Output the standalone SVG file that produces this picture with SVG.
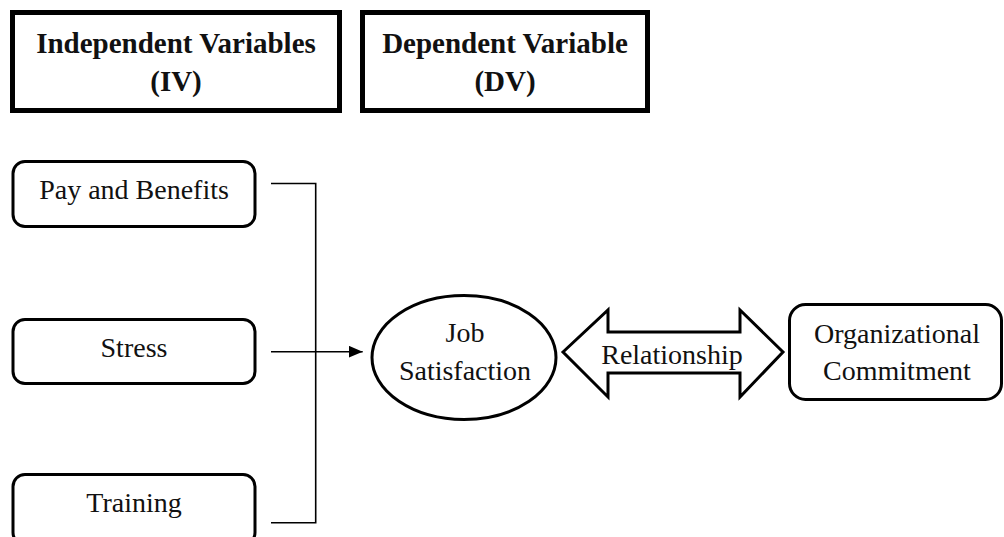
<svg xmlns="http://www.w3.org/2000/svg" width="1004" height="537" viewBox="0 0 1004 537">
<style>
.hdr{fill:#fff;stroke:#000;stroke-width:5}
.box{fill:#fff;stroke:#000;stroke-width:3}
.t{font-family:"Liberation Serif","Times New Roman",serif;font-size:28px;fill:#111;text-anchor:middle}
.b{font-family:"Liberation Serif","Times New Roman",serif;font-size:29px;font-weight:bold;fill:#111;text-anchor:middle}
.ln{fill:none;stroke:#000;stroke-width:1.6}
</style>
<defs>
<marker id="ah" markerWidth="16" markerHeight="14" refX="14" refY="6" orient="auto" markerUnits="userSpaceOnUse">
<path d="M0,0 L14,6 L0,12 Z" fill="#000"/>
</marker>
</defs>
<rect width="1004" height="537" fill="#fff"/>
<g id="iv-header">
<rect class="hdr" x="12.5" y="12.5" width="327" height="98"/>
<text class="b" x="176" y="53">Independent Variables</text>
<text class="b" x="176" y="91">(IV)</text>
</g>
<g id="dv-header">
<rect class="hdr" x="362.5" y="12.5" width="285" height="98"/>
<text class="b" x="505" y="53">Dependent Variable</text>
<text class="b" x="505" y="91">(DV)</text>
</g>
<g id="pay">
<rect class="box" x="13" y="161.5" width="242" height="65" rx="12"/>
<text class="t" x="134" y="199">Pay and Benefits</text>
</g>
<g id="stress">
<rect class="box" x="13" y="319.5" width="242" height="64" rx="12"/>
<text class="t" x="134" y="357">Stress</text>
</g>
<g id="training">
<rect class="box" x="13" y="474.5" width="242" height="70" rx="12"/>
<text class="t" x="134" y="512">Training</text>
</g>
<g id="connectors">
<path class="ln" d="M271,183.5 H315.7 V522.7 H271"/>
<path class="ln" d="M271,351.7 H362.7" marker-end="url(#ah)"/>
<polygon points="563,352 608,310 608,332 740,332 740,310 783,352 740,397 740,373 608,373 608,397" fill="#fff" stroke="#000" stroke-width="3" stroke-linejoin="miter"/>
<text class="t" x="672" y="364">Relationship</text>
</g>
<g id="job-satisfaction">
<ellipse cx="464" cy="357.5" rx="92" ry="62" fill="#fff" stroke="#000" stroke-width="3"/>
<text class="t" x="465" y="342">Job</text>
<text class="t" x="465" y="380">Satisfaction</text>
</g>
<g id="org-commitment">
<rect class="box" x="789.5" y="304.5" width="212" height="95" rx="16"/>
<text class="t" x="897" y="343">Organizational</text>
<text class="t" x="897" y="380">Commitment</text>
</g>
</svg>
